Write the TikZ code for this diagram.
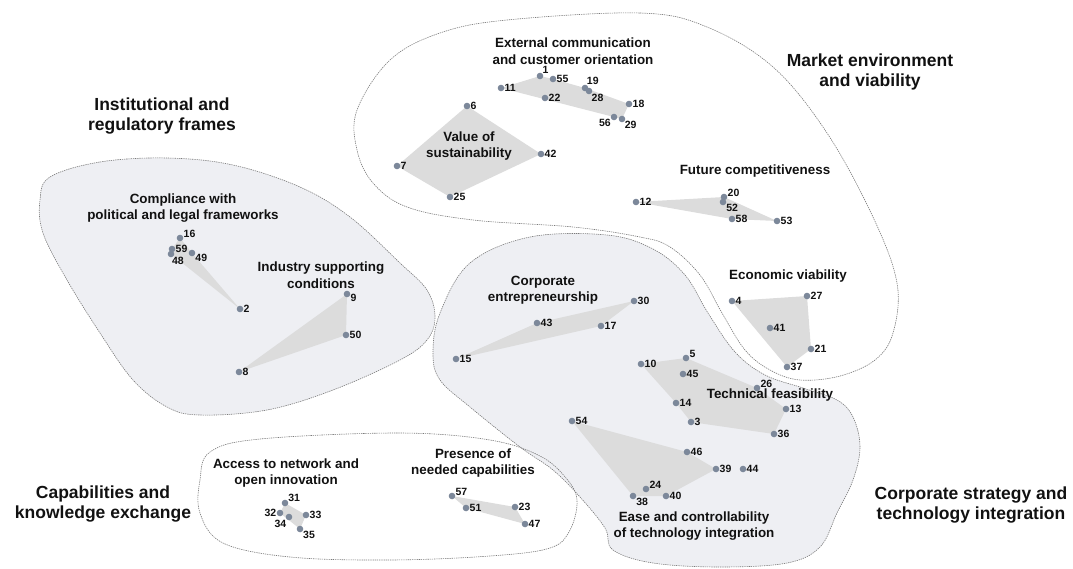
\documentclass[tikz,border=0pt]{standalone}
\usepackage{fontspec}
\setmainfont{Liberation Sans}
\definecolor{dotc}{HTML}{7C889A}
\definecolor{polyc}{HTML}{DCDCDC}
\definecolor{blobc}{HTML}{EEEFF3}
\definecolor{linec}{HTML}{7A7A7A}
\definecolor{txtc}{HTML}{111111}
\pgfdeclarelayer{bg}
\pgfsetlayers{bg,main}
\tikzset{
  dot/.style={circle,fill=dotc,draw=none,inner sep=0pt,minimum size=6.6pt,label distance=5pt},
  num/.style={font=\fontsize{10.5}{12}\selectfont\bfseries,text=txtc,inner sep=0pt},
  poly/.style={fill=polyc},
  blobline/.style={draw=linec,line width=0.6pt,dash pattern=on 1.3pt off 0.9pt},
  ctitle/.style={font=\fontsize{13.4}{16.5}\selectfont\bfseries,text=txtc,align=center,inner sep=0pt},
  btitle/.style={font=\fontsize{17.5}{20.5}\selectfont\bfseries,text=txtc,align=center,inner sep=0pt}
}
\newcommand\pp[5][]{\node[dot,#1,label={[num]#5:#2}] (p#2) at (#3,#4) {};}
\begin{document}
\begin{tikzpicture}[x=1pt,y=-1pt]
\useasboundingbox (0,0) rectangle (1073,568);
% ---------- points ----------
% External communication
\pp[label distance=1pt]{1}{540}{76}{45}
\pp{55}{553}{79}{0}
\pp{11}{501}{88}{0}
\pp{22}{545}{98}{0}
\pp[label distance=0pt]{19}{585}{88}{60}
\pp[label distance=0pt]{28}{589}{91}{-45}
\pp{18}{629}{104}{0}
\pp[label distance=0pt]{56}{614}{117}{-150}
\pp[label distance=0pt]{29}{622}{119}{-40}
% Value of sustainability
\pp{6}{467}{106}{0}
\pp{7}{397}{166}{0}
\pp{42}{541}{154}{0}
\pp{25}{450}{197}{0}
% Future competitiveness
\pp{12}{636}{202}{0}
\pp[label distance=4pt]{20}{724}{197}{8}
\pp[label distance=0.5pt]{52}{723}{202}{-25}
\pp{58}{732}{219}{0}
\pp{53}{777}{221}{0}
% Economic viability
\pp{4}{732}{301}{0}
\pp{27}{807}{296}{0}
\pp{41}{770}{328}{0}
\pp{21}{811}{349}{0}
\pp{37}{787}{367}{0}
% Corporate entrepreneurship
\pp{30}{634}{301}{0}
\pp{43}{537}{323}{0}
\pp{17}{601}{326}{0}
\pp{15}{456}{359}{0}
% Technical feasibility
\pp{10}{641}{364}{0}
\pp{5}{686}{358}{5}
\pp{45}{683}{374}{0}
\pp{26}{757}{388}{10}
\pp{14}{676}{403}{0}
\pp{3}{691}{422}{0}
\pp{13}{786}{409}{0}
\pp{36}{774}{434}{0}
% Ease and controllability
\pp{54}{572}{421}{0}
\pp{46}{687}{452}{0}
\pp{39}{716}{469}{0}
\pp{44}{743}{469}{0}
\pp{24}{646}{489}{10}
\pp[label distance=-1pt]{38}{633}{496}{-25}
\pp{40}{666}{496}{0}
% Compliance
\pp{16}{180}{238}{5}
\pp[label distance=1pt]{59}{172}{249}{0}
\pp[label distance=2pt]{48}{171}{254}{-75}
\pp[label distance=0pt]{49}{192}{253}{-20}
\pp{2}{240}{309}{0}
% Industry supporting conditions
\pp{9}{347}{294}{-5}
\pp{50}{346}{335}{0}
\pp{8}{239}{372}{0}
% Access to network
\pp[label distance=1.5pt]{31}{285}{503}{25}
\pp[label distance=1pt]{32}{280}{513}{180}
\pp[label distance=0pt]{34}{289}{517}{-135}
\pp{33}{306}{515}{0}
\pp[label distance=0pt]{35}{300}{529}{-30}
% Presence of needed capabilities
\pp[label distance=4pt]{57}{452}{496}{10}
\pp{51}{466}{508}{0}
\pp{23}{515}{507}{0}
\pp{47}{525}{524}{0}
% ---------- background: blobs and hulls ----------
\begin{pgfonlayer}{bg}
% Institutional blob
\path[fill=blobc,blobline] plot[smooth cycle,tension=0.6] coordinates {
 (50,177) (100,162) (167,158) (233,165) (300,187) (350,217) (400,263) (427,290)
 (435,317) (427,340) (400,360) (333,390) (267,410) (200,415) (167,407) (133,380)
 (100,333) (67,280) (43,233) (40,200)};
% Corporate strategy blob
\path[fill=blobc,blobline] plot[smooth cycle,tension=0.6] coordinates {
 (470,263) (530,237) (607,235) (653,249) (685,275) (708,313) (735,352) (765,375)
 (803,388) (837,400) (853,417) (860,447) (853,480) (837,513) (820,547) (787,563)
 (720,567) (653,563) (613,550) (605,528) (580,497) (553,470) (520,447) (470,407)
 (440,380) (433,353) (440,313)};
% Market blob
\path[blobline] plot[smooth cycle,tension=0.6] coordinates {
 (507,20) (640,13) (707,27) (773,67) (827,133) (873,217) (897,283) (893,333)
 (875,360) (840,376) (800,380) (770,370) (745,350) (722,313) (700,275) (670,247)
 (640,237) (573,227) (473,220) (407,207) (373,183) (357,150) (357,110) (390,60)
 (440,33)};
% Capabilities blob
\path[blobline] plot[smooth cycle,tension=0.6] coordinates {
 (210,452) (260,439) (400,433) (490,440) (540,456) (566,478) (577,500) (570,530)
 (550,548) (490,556) (390,560) (290,557) (223,543) (200,513) (200,480)};
% hulls
\fill[poly] (p11.center) -- (p1.center) -- (p55.center) -- (p19.center) -- (p18.center) -- (p29.center) -- (p56.center) -- cycle;
\fill[poly] (p6.center) -- (p42.center) -- (p25.center) -- (p7.center) -- cycle;
\fill[poly] (p12.center) -- (p20.center) -- (p53.center) -- (p58.center) -- cycle;
\fill[poly] (p4.center) -- (p27.center) -- (p21.center) -- (p37.center) -- cycle;
\fill[poly] (p15.center) -- (p43.center) -- (p30.center) -- (p17.center) -- cycle;
\fill[poly] (p10.center) -- (p5.center) -- (p26.center) -- (p13.center) -- (p36.center) -- (p3.center) -- (p14.center) -- cycle;
\fill[poly] (p54.center) -- (p46.center) -- (p39.center) -- (p40.center) -- (p38.center) -- cycle;
\fill[poly] (p16.center) -- (p49.center) -- (p2.center) -- (p48.center) -- (p59.center) -- cycle;
\fill[poly] (p9.center) -- (p50.center) -- (p8.center) -- cycle;
\fill[poly] (p31.center) -- (p33.center) -- (p35.center) -- (p32.center) -- cycle;
\fill[poly] (p57.center) -- (p23.center) -- (p47.center) -- (p51.center) -- cycle;
\end{pgfonlayer}
% ---------- cluster titles ----------
\node[ctitle] (tExt) at (573,51) {External communication\\and customer orientation};
\node[ctitle] (tVal) at (469,146) {Value of\\sustainability};
\node[ctitle] (tFut) at (755,171) {Future competitiveness};
\node[ctitle] (tEco) at (788,276) {Economic viability};
\node[ctitle] (tCE) at (543,290) {Corporate\\entrepreneurship};
\node[ctitle] (tTech) at (770,395) {Technical feasibility};
\node[ctitle] (tEase) at (694,526) {Ease and controllability\\of technology integration};
\node[ctitle] (tComp) at (183,208) {Compliance with\\political and legal frameworks};
\node[ctitle] (tInd) at (321,275) {Industry supporting\\conditions};
\node[ctitle] (tAcc) at (286,473) {Access to network and\\open innovation};
\node[ctitle] (tPres) at (473,463) {Presence of\\needed capabilities};
% ---------- region titles ----------
\node[btitle] (bInst) at (162,116) {Institutional and\\regulatory frames};
\node[btitle] (bMkt) at (870,72) {Market environment\\and viability};
\node[btitle] (bCap) at (103,504) {Capabilities and\\knowledge exchange};
\node[btitle] (bCorp) at (971,505) {Corporate strategy and\\technology integration};
\end{tikzpicture}
\end{document}
